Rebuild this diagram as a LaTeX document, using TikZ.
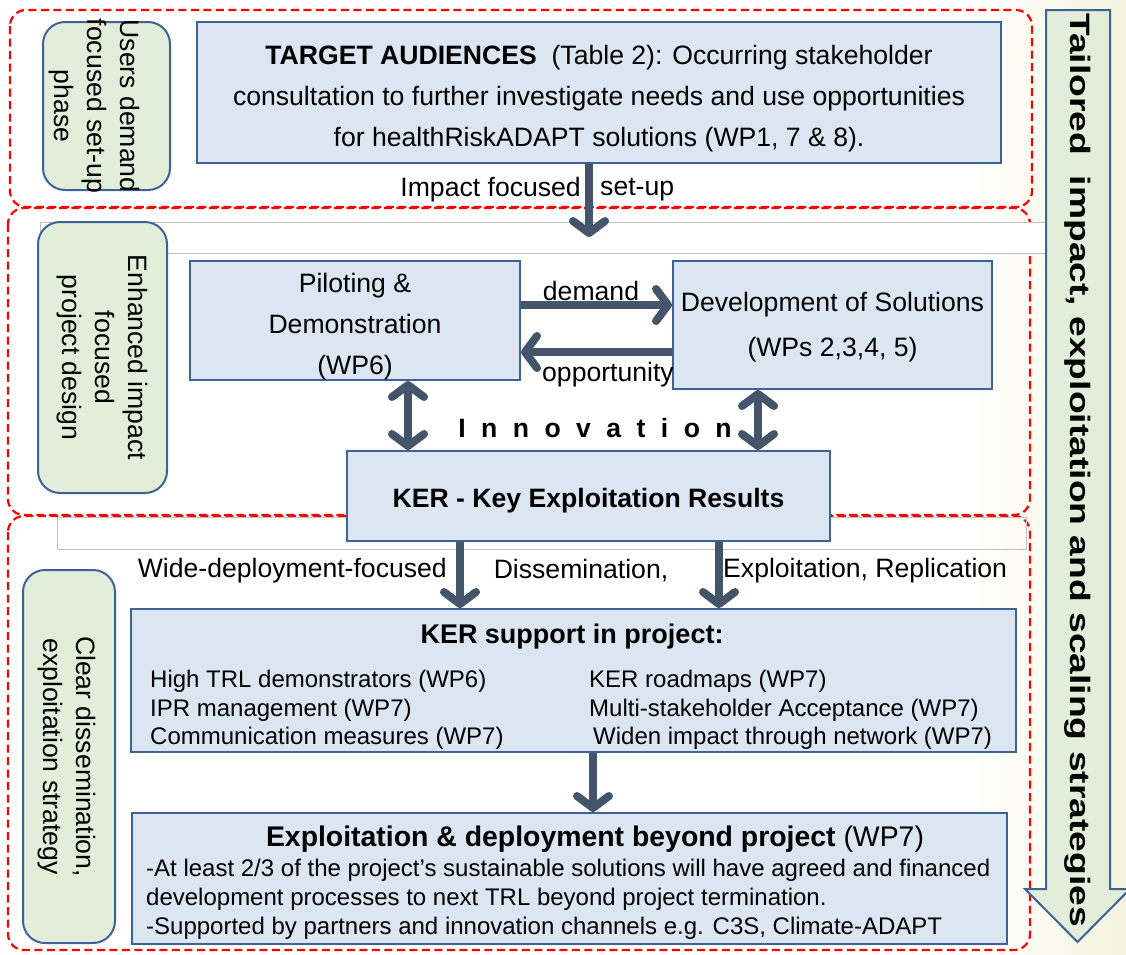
\documentclass[tikz,border=0pt]{standalone}
\usepackage{fontspec}
\setmainfont{Liberation Sans}
\newfontfamily\spacedfont[LetterSpace=58]{Liberation Sans}
\usepackage{xcolor}
\usetikzlibrary{arrows.meta,calc,positioning}
\definecolor{boxfill}{HTML}{DCE6F2}
\definecolor{boxline}{HTML}{3F6296}
\definecolor{sidefill}{HTML}{E2EED9}
\definecolor{flowcol}{HTML}{44546A}
\definecolor{cream}{HTML}{F4F4DD}
\newcommand{\bigfont}{\fontsize{26.6}{41}\selectfont}
\newcommand{\listfont}{\fontsize{24}{28.5}\selectfont}
\newcommand{\lift}[1]{\rule{0pt}{#1pt}}
\tikzset{%
	phase/.style   = {draw=red, line width=2.2pt, dash pattern=on 8pt off 4.5pt, rounded corners=16pt},
	ghost/.style   = {draw=black!25, line width=1pt, fill=white},
	bluebox/.style = {draw=boxline, line width=2pt, fill=boxfill, inner sep=0pt, align=center, font=\bigfont},
	sidebox/.style = {draw=boxline, line width=2pt, fill=sidefill, rounded corners=22pt, inner sep=0pt, align=center, rotate=-90, font=\fontsize{26.6}{33}\selectfont},
	tag/.style     = {inner sep=0pt, font=\bigfont},
	flow/.style    = {line width=8pt, draw=flowcol, -{Straight Barb[length=12pt,width=32pt,round]}},
	twoway/.style  = {flow, {Straight Barb[length=12pt,width=32pt,round]}-{Straight Barb[length=12pt,width=32pt,round]}},
}

\begin{document}
\begin{tikzpicture}[x=1pt,y=-1pt]
	\useasboundingbox (0,0) rectangle (1126,954);
	\shade[left color=white, right color=cream] (970,0) rectangle (1126,954);
	\draw[phase] (10,10) rectangle (1032,207);
	\draw[phase] (8,208) rectangle (1030,515);
	\draw[phase] (8,516) rectangle (1030,950);
	\draw[ghost] (40,222) rectangle (1046,253);
	\draw[ghost, fill=none] (57,517) rectangle (1026,549);

	\node[sidebox, minimum width=168, minimum height=127] (users) at (106.5,106) {};
	\node[tag, rotate=-90, align=center, font=\fontsize{26.6}{33}\selectfont] (userstext) at (94,106) {Users demand\\focused set-up\\phase};
	\node[sidebox, minimum width=271, minimum height=129] (enhanced) at (102.5,357.5) {Enhanced impact\\focused\\project design};
	\node[sidebox, minimum width=373, minimum height=92] (clear) at (69,756.5) {\lift{23}Clear dissemination,\\exploitation strategy};

	\node[bluebox, minimum width=804, minimum height=141] (target) at (599,92.5) {\lift{31}\textbf{TARGET AUDIENCES}\ \ (Table 2): Occurring stakeholder\\consultation to further investigate needs and use opportunities\\for healthRiskADAPT\ solutions (WP1, 7 \& 8).};
	\node[bluebox, minimum width=330, minimum height=119] (pilot) at (355,320.5) {\lift{31}Piloting \&\\Demonstration\\(WP6)};
	\node[bluebox, minimum width=319, minimum height=128, font=\fontsize{26.6}{45}\selectfont] (devel) at (832.5,325) {\lift{23}Development of Solutions\\(WPs 2,3,4, 5)};
	\node[bluebox, minimum width=483, minimum height=90] (ker) at (588.5,496) {\lift{29}\textbf{KER - Key Exploitation Results}};
	\node[bluebox, minimum width=885, minimum height=143] (support) at (573.5,680.5) {};
	\node[bluebox, minimum width=875, minimum height=131] (exploit) at (569.5,878.5) {};

	\node[tag, font=\bfseries\fontsize{27}{30}\selectfont] (supporthead) at (572,637) {KER support in project:};
	\node[tag, font=\listfont, align=left, anchor=west] (supportleft) at (150,710) {High TRL demonstrators (WP6)\\IPR management (WP7)\\Communication measures (WP7)};
	\node[tag, font=\listfont, align=left, anchor=west] (supportright) at (589,710) {KER roadmaps (WP7)\\Multi-stakeholder Acceptance (WP7)\\\hspace{4pt}Widen impact through network (WP7)};
	\node[tag, font=\fontsize{28.4}{30}\selectfont] (exploithead) at (595,839) {\textbf{Exploitation \& deployment beyond project} (WP7)};
	\node[tag, font=\fontsize{24}{29}\selectfont, align=left, anchor=west] (exploitbody) at (146,899) {-At least 2/3 of the project's sustainable solutions will have agreed and financed\\development processes to next TRL beyond project termination.\\-Supported by partners and innovation channels e.g. C3S, Climate-ADAPT};

	\draw[draw=boxline, line width=2pt, fill=sidefill] (1046,10) -- (1110,10) -- (1110,889) -- (1130,889) -- (1077.5,942) -- (1025,889) -- (1046,889) -- cycle;
	\node[rotate=-90, inner sep=0pt, font=\fontsize{28}{30}\selectfont\bfseries] (tailored) at (1078,470) {\scalebox{1.33}[1]{Tailored\ \ impact, exploitation and scaling strategies}};

	\coordinate (setupend) at (589,237);
	\node[tag, anchor=east] (impactlab) at (581,190) {Impact focused};
	\node[tag, anchor=west] (setuplab) at (600,190) {set-up};
	\node[tag] (demandlab) at (591,291) {demand};
	\node[tag] (opplab) at (608,375) {opportunity};
	\node[tag, font=\spacedfont\bfseries\bigfont] (innolab) at (595,428) {Innovation};
	\node[tag, anchor=east] (widelab) at (447,571) {Wide-deployment-focused};
	\node[tag] (dissemlab) at (581,571) {Dissemination,};
	\node[tag, anchor=west] (exploitlab) at (723,571) {Exploitation, Replication};

	\draw[flow] (target.south -| setupend) -- (setupend);
	\draw[flow] (pilot.east |- 0,305) -- (devel.west |- 0,305);
	\draw[flow] (devel.west |- 0,352) -- (pilot.east |- 0,352);
	\draw[twoway] (pilot.south -| 408,0) -- (ker.north -| 408,0);
	\draw[twoway] (devel.south -| 758,0) -- (ker.north -| 758,0);
	\draw[flow] (ker.south -| 460,0) -- (support.north -| 460,0);
	\draw[flow] (ker.south -| 719,0) -- (support.north -| 719,0);
	\draw[flow] (support.south -| 593,0) -- (exploit.north -| 593,0);
\end{tikzpicture}
\end{document}
